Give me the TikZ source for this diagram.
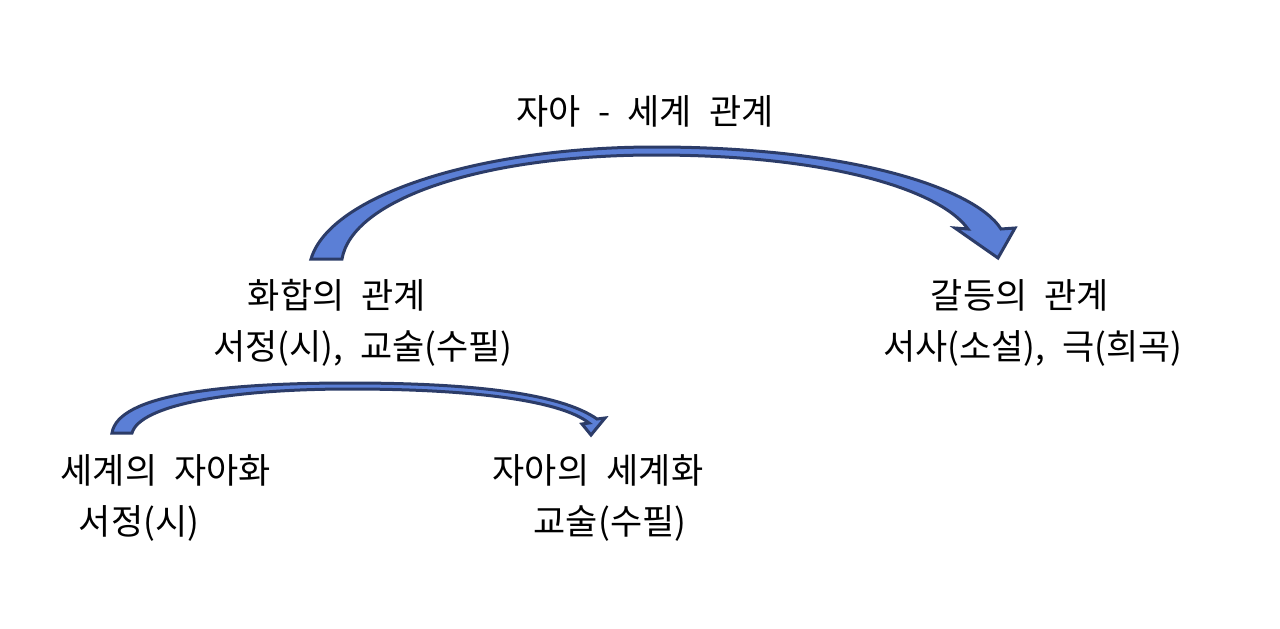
\documentclass[tikz,border=0pt]{standalone}
\usepackage{fontspec}
\setmainfont[WordSpace=2.2]{Noto Sans CJK KR}
\begin{document}
\begin{tikzpicture}[x=0.5pt,y=-0.5pt,
  lbl/.style={font=\fontsize{17.5pt}{21pt}\selectfont, inner sep=0pt},
  barrow/.style={fill=arrowfill, draw=arrowline, line width=1.5pt, line join=miter}]
\definecolor{arrowfill}{HTML}{5B7FD6}
\definecolor{arrowline}{HTML}{2C3C68}
\useasboundingbox (0,0) rectangle (1280,628);
\fill[white] (0,0) rectangle (1280,628);

\node[lbl] (top) at (645,111) {자아 - 세계 관계};
\node[lbl] (harm) at (337,295) {화합의 관계};
\node[lbl] (harmg) at (363,348) {서정(시), 교술(수필)};
\node[lbl] (conf) at (1020,295) {갈등의 관계};
\node[lbl] (confg) at (1033,348) {서사(소설), 극(희곡)};
\node[lbl] (selfw) at (166,470) {세계의 자아화};
\node[lbl] (selfwg) at (139,523) {서정(시)};
\node[lbl] (worlds) at (598,470) {자아의 세계화};
\node[lbl] (worldsg) at (610,523) {교술(수필)};

% big curved arrow
\draw[barrow] (311,259) -- (342,259)
  .. controls (352,200) and (480,155) .. (655,155)
  .. controls (830,155) and (940,190) .. (968,229)
  -- (955,228) -- (998,258) -- (1015,228) -- (1001,229)
  .. controls (975,188) and (850,147) .. (655,147)
  .. controls (480,147) and (330,195) .. (311,259) -- cycle;

% small curved arrow
\draw[barrow] (112,433) -- (132,433)
  .. controls (140,405) and (230,389) .. (350,389)
  .. controls (470,389) and (560,400) .. (589,423)
  -- (582,424) -- (591,435) -- (605,418) -- (597,419)
  .. controls (560,393) and (470,383) .. (350,383)
  .. controls (220,383) and (118,395) .. (112,433) -- cycle;
\end{tikzpicture}
\end{document}
